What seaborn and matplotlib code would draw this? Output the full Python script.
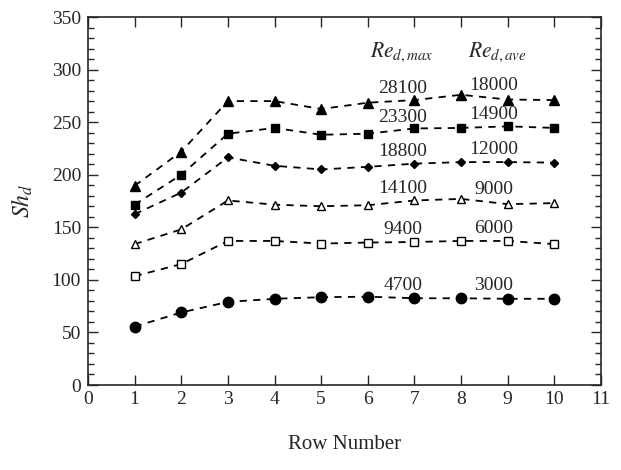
import numpy as np
import pandas as pd
import matplotlib
matplotlib.use("Agg")
import matplotlib.pyplot as plt
import seaborn as sns
from matplotlib.ticker import MultipleLocator

# Sherwood number per row for each Reynolds number case
rows = [1, 2, 3, 4, 5, 6, 7, 8, 9, 10]
sh_28100 = [189.5, 222, 270, 270, 262.5, 268.5, 271, 276, 271.5, 271]
sh_23300 = [171.5, 200, 239, 244.5, 238, 239, 244, 244.5, 246, 244.5]
sh_18800 = [162.5, 183, 216.5, 208.5, 205, 207.5, 210.5, 212, 212, 211.5]
sh_14100 = [134, 148, 175.5, 171.5, 170, 171, 175.5, 177, 172, 173]
sh_9400 = [103.5, 115, 137, 137, 134.5, 135.5, 136, 137, 137, 134]
sh_4700 = [55.5, 69, 79, 82, 83.5, 84, 82.5, 82.5, 82, 82]

re_max = ["28100", "23300", "18800", "14100", "9400", "4700"]
re_ave = ["18000", "14900", "12000", "9000", "6000", "3000"]

sns.set_style("ticks")
plt.rcParams["font.family"] = ["Liberation Serif", "DejaVu Serif"]
plt.rcParams["mathtext.fontset"] = "stix"

fig, ax = plt.subplots(figsize=(6.21, 4.70), dpi=100)
fig.subplots_adjust(left=88 / 621, right=601 / 621, bottom=85 / 470, top=453 / 470)

series = [sh_28100, sh_23300, sh_18800, sh_14100, sh_9400, sh_4700]
# marker, size, face colour
styles = [("^", 7, "black"), ("s", 6, "black"), ("D", 4.5, "black"),
          ("^", 6, "white"), ("s", 5.5, "white"), ("o", 7.5, "black")]

for vals, (mk, ms, fc), lab_max, lab_ave in zip(series, styles, re_max, re_ave):
    sns.lineplot(x=rows, y=vals, ax=ax, color="black", linestyle=(0, (4, 3.5)),
                 linewidth=1.3, marker=mk, markersize=ms, markerfacecolor=fc,
                 markeredgecolor="black", markeredgewidth=1.0, sort=False)
    for xpos, lab in ((6.75, lab_max), (8.7, lab_ave)):
        ax.annotate(lab, xy=(xpos, np.interp(xpos, rows, vals)), xytext=(0, 3),
                    textcoords="offset points", ha="center", va="bottom", fontsize=14)

ax.text(6.72, 316, r"$Re_{d,max}$", ha="center", va="center", fontsize=15.5)
ax.text(8.78, 316, r"$Re_{d,ave}$", ha="center", va="center", fontsize=15.5)

ax.set_xlim(0, 11)
ax.set_ylim(0, 350)
ax.xaxis.set_major_locator(MultipleLocator(1))
ax.yaxis.set_major_locator(MultipleLocator(50))
ax.yaxis.set_minor_locator(MultipleLocator(10))
ax.tick_params(axis="both", which="both", direction="in", top=True, right=True,
               labelsize=14, width=1.0)
ax.tick_params(axis="both", which="major", length=7)
ax.tick_params(axis="y", which="minor", length=4)
ax.tick_params(axis="x", pad=4)
ax.tick_params(axis="y", pad=5)
for sp in ax.spines.values():
    sp.set_linewidth(1.2)

ax.set_xlabel("Row Number", fontsize=15, labelpad=20)
ax.set_ylabel(r"$Sh_d$", fontsize=17, labelpad=12)

fig.savefig("out.png", dpi=100)
